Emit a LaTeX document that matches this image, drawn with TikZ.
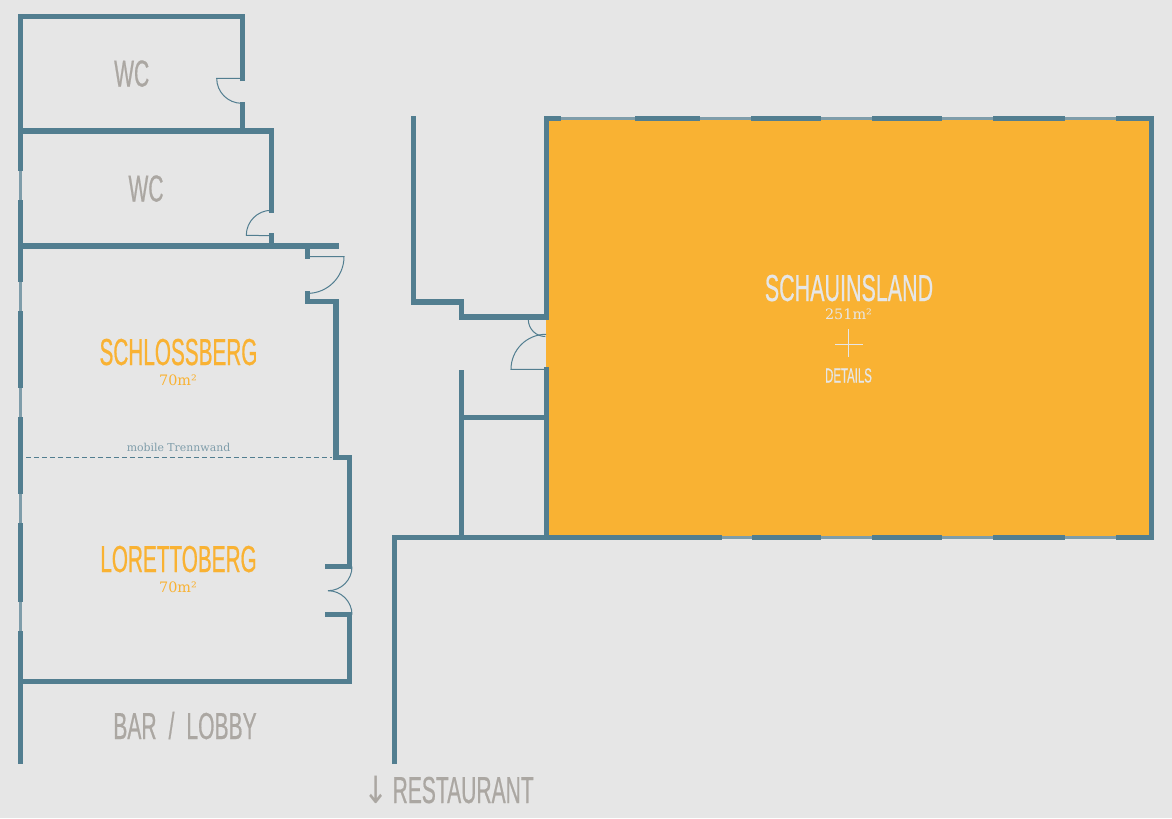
\documentclass[tikz,border=0pt]{standalone}
\usepackage{fontspec}
\usepackage{tikz}
\setmainfont{Liberation Serif}
\newfontfamily\roomfont[FakeStretch=0.56,FakeBold=0.5]{Liberation Sans}
\newfontfamily\slabfont{DejaVu Serif}
\newfontfamily\arrowfont[FakeStretch=0.8]{DejaVu Sans}
\definecolor{wallblue}{HTML}{527E90}
\definecolor{glassblue}{HTML}{7F9DAA}
\definecolor{roomorange}{HTML}{F9B233}
\definecolor{floorgrey}{HTML}{E6E6E6}
\definecolor{labelgrey}{HTML}{ABA7A2}
\tikzset{
  >=latex,
  wall/.style={draw=wallblue,line width=0.105cm,miter limit=10},
  glass/.style={draw=glassblue,line width=0.05cm},
  door/.style={draw=wallblue,line width=0.02cm},
  roomlabel/.style={font=\roomfont\fontsize{21.4}{24}\selectfont,anchor=base,inner sep=0pt},
  smalllabel/.style={font=\roomfont\fontsize{11.6}{13}\selectfont,anchor=base,inner sep=0pt},
  arealabel/.style={font=\slabfont\fontsize{8.2}{10}\selectfont,anchor=base,inner sep=0pt},
}

\begin{document}
\begin{tikzpicture}[x=0.02cm,y=-0.02cm]
  \useasboundingbox[fill=floorgrey] (0,0) rectangle (1172,818);
  % big room
  \fill[roomorange] (546,119) rectangle (1151.7,537.7);
  % glass lines
  \draw[glass] (20.5,16) -- (20.5,764);
  \draw[glass] (546,118.7) -- (1151,118.7);
  \draw[glass] (546,537.7) -- (1151,537.7);
  % left wing
  \draw[wall] (242.3,81) -- (242.3,16.5) -- (20.5,16.5) -- (20.5,171);
  \draw[wall] (242.3,102) -- (242.3,131);
  \draw[wall] (20.5,131) -- (271.3,131) -- (271.3,212.7);
  \draw[wall] (271.3,233) -- (271.3,246);
  \draw[wall] (20.5,246) -- (339,246);
  \draw[wall] (307.3,246) -- (307.3,259);
  \draw[wall] (307.3,291) -- (307.3,301.7) -- (336,301.7) -- (336,457.5) -- (349.7,457.5) -- (349.7,566.7) -- (325,566.7);
  \draw[wall] (325,614.7) -- (349.7,614.7) -- (349.7,681.3) -- (20.5,681.3);
  \foreach \a/\b in {200/282,311/387.7,417/494,523/602,631/764}
    \draw[wall] (20.5,\a) -- (20.5,\b);
  % right wing
  \draw[wall] (413.3,116) -- (413.3,302) -- (461.7,302) -- (461.7,317) -- (546.3,317) -- (546.3,118.7) -- (561,118.7);
  \draw[wall] (394.3,764) -- (394.3,537.7) -- (722,537.7);
  \draw[wall] (461.7,370.3) -- (461.7,537.7);
  \draw[wall] (461.7,417.5) -- (546.3,417.5);
  \draw[wall] (546.3,367) -- (546.3,537.7);
  \draw[wall] (1116,118.7) -- (1151.7,118.7) -- (1151.7,537.7) -- (1116,537.7);
  \foreach \a/\b in {635/700,751/821,872/942,993/1065}
    \draw[wall] (\a,118.7) -- (\b,118.7);
  \foreach \a/\b in {752/821,872/942,993/1065}
    \draw[wall] (\a,537.7) -- (\b,537.7);
  % doors
  \draw[door] (242.3,78.3) -- (216.7,78.3) arc[start angle=180,end angle=90,radius=25];
  \draw[door] (271.3,210.3) arc[start angle=-90,end angle=-180,radius=25] -- (271.3,235.7);
  \draw[door] (307.3,256.7) -- (344,256.7) arc[start angle=0,end angle=90,radius=36.7];
  \draw[door] (352,566.7) arc[start angle=0,end angle=90,radius=24];
  \draw[door] (352,614.7) arc[start angle=0,end angle=-90,radius=24];
  \draw[door] (528.3,319.5) arc[start angle=180,end angle=90,radius=17];
  \draw[door] (546,334.3) arc[start angle=-90,end angle=-180,radius=35] -- (546,369.3);
  \draw[door,dashed,dash pattern=on 0.11cm off 0.05cm] (26,457.3) -- (332,457.3);
  % labels
  \node[roomlabel,text=labelgrey] (wcupper) at (131.7,86.5) {WC};
  \node[roomlabel,text=labelgrey] (wclower) at (146,201.5) {WC};
  \node[roomlabel,text=roomorange,xscale=0.985,transform shape] (schlossberg) at (178.5,365) {SCHLOSSBERG};
  \node[arealabel,text=roomorange] (schlossbergarea) at (178,385) {70m²};
  \node[font=\slabfont\fontsize{6.2}{8}\selectfont,text=glassblue,anchor=base,inner sep=0pt] (partition) at (178.5,451) {mobile Trennwand};
  \node[roomlabel,text=roomorange,xscale=0.985,transform shape] (lorettoberg) at (178.5,572) {LORETTOBERG};
  \node[arealabel,text=roomorange] (lorettobergarea) at (178,592) {70m²};
  \node[roomlabel,text=labelgrey] (barlobby) at (185,739) {BAR\hspace{3.5pt} / \hspace{3.5pt}LOBBY};
  \node[roomlabel,text=labelgrey,anchor=base west] (restaurant) at (363.5,803) {{\arrowfont ↓}\hspace{2pt}RESTAURANT};
  \node[roomlabel,text=floorgrey,xscale=1.02,transform shape] (schauinsland) at (849,301) {SCHAUINSLAND};
  \node[arealabel,text=floorgrey] (schauinslandarea) at (848.5,319.5) {251m²};
  \node[smalllabel,text=floorgrey] (details) at (848.5,382.5) {DETAILS};
  \draw[floorgrey,line width=0.02cm] (835,344) -- (862.7,344);
  \draw[floorgrey,line width=0.02cm] (848.5,329) -- (848.5,356.7);
\end{tikzpicture}
\end{document}
